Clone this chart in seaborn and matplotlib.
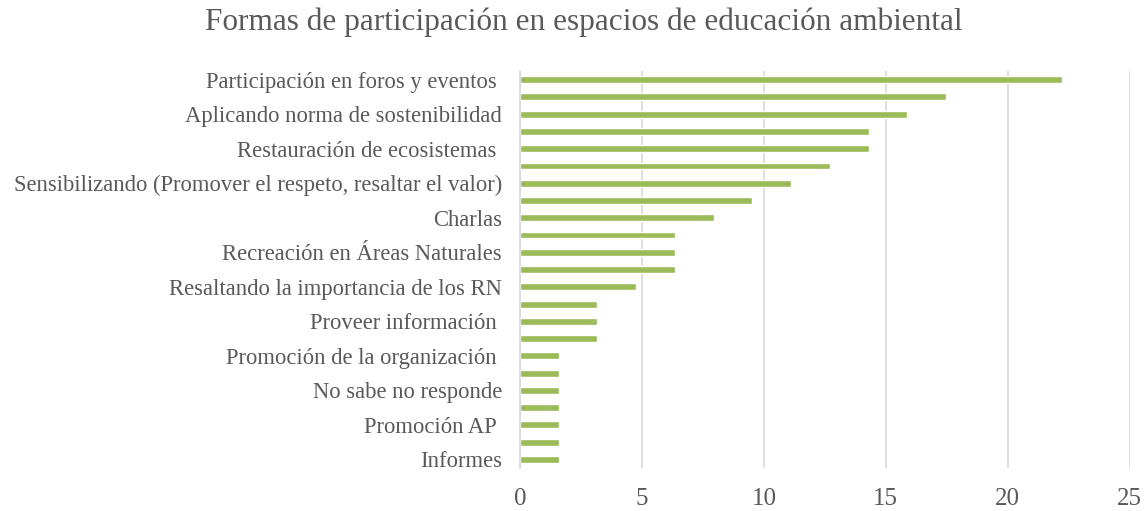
import pandas as pd
import matplotlib.pyplot as plt
import seaborn as sns

labels = ['Participación en foros y eventos ', '', 'Aplicando norma de sostenibilidad', '',
          'Restauración de ecosistemas ', '',
          'Sensibilizando (Promover el respeto, resaltar el valor)', '', 'Charlas', '',
          'Recreación en Áreas Naturales', '', 'Resaltando la importancia de los RN', '',
          'Proveer información ', '', 'Promoción de la organización ', '',
          'No sabe no responde', '', 'Promoción AP ', '', 'Informes']
values = [22.22, 17.46, 15.87, 14.29, 14.29, 12.70, 11.11, 9.52, 7.94, 6.35, 6.35, 6.35,
          4.76, 3.17, 3.17, 3.17, 1.59, 1.59, 1.59, 1.59, 1.59, 1.59, 1.59]

df = pd.DataFrame({'pos': range(len(values)), 'valor': values})

sns.set_style('white')
plt.rcParams['font.family'] = ['Liberation Serif', 'DejaVu Serif']
gray = '#595959'

fig = plt.figure(figsize=(11.46, 5.11), dpi=100)
ax = fig.add_axes([0.4538, 0.084, 0.532, 0.777])
sns.barplot(data=df, x='valor', y='pos', orient='h', color='#9BBB59', saturation=1,
            width=0.4, ax=ax)

ax.set_xlim(0, 25)
ax.set_xticks([0, 5, 10, 15, 20, 25])
ax.set_yticks(range(len(labels)))
ax.set_yticklabels(labels, fontsize=16.3, color=gray)
ax.tick_params(axis='x', labelsize=18, colors=gray, length=0, pad=14)
ax.tick_params(axis='y', length=0, pad=13)
ax.grid(axis='x', color='#D9D9D9', linewidth=1.2)
ax.set_axisbelow(True)
for s in ['top', 'right', 'bottom']:
    ax.spines[s].set_visible(False)
ax.spines['left'].set_color('#D9D9D9')
ax.spines['left'].set_linewidth(1.2)
ax.set_xlabel('')
ax.set_ylabel('')
fig.suptitle('Formas de participación en espacios de educación ambiental',
             fontsize=22.5, color=gray, x=0.509, y=0.985)

plt.savefig('out.png', dpi=100)
